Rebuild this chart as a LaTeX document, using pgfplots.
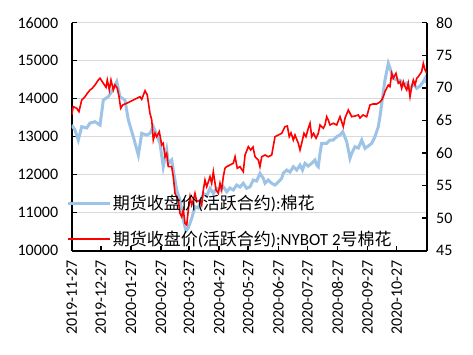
\documentclass[border=0pt]{standalone}
\usepackage{fontspec}
\setmainfont{Carlito}
\newfontfamily\cjk{Noto Sans CJK SC}
\usepackage{pgfplots}
\pgfplotsset{compat=1.18}
\definecolor{cfblue}{RGB}{157,195,230}
\definecolor{gridgray}{RGB}{217,217,217}

\pgfplotstableread{
d v
0 13307
3.4 13176
6.8 12913
10.3 13263
15.5 13229
18.9 13360
24.0 13394
29.2 13307
32.6 13965
37.7 14052
41.2 14184
46.4 14447
49.8 14052
54.9 13965
58.4 13439
63.5 13000
68.7 12518
72.2 13089
77.3 13044
80.7 13089
84.1 13263
87.6 13044
91.0 12826
94.4 12210
97.9 12649
99.6 12299
103.1 12386
104.7 12123
108.2 11597
111.6 11333
115.1 10807
117.8 10520
120.2 10600
123.7 10852
127.1 11157
130.5 11123
135.7 11510
139.2 11439
142.6 11641
146.0 11510
149.5 11641
152.9 11597
156.3 11684
159.8 11552
163.2 11649
166.6 11597
170.1 11728
173.5 11676
176.9 11773
180.4 11641
183.8 11684
187.2 11860
190.7 11834
194.1 12036
197.5 11905
199.3 11773
202.7 11860
206.2 11773
209.6 11728
213.0 11807
216.5 11905
218.1 12036
221.6 12123
225.1 12070
228.5 12210
232.0 12123
235.4 12255
237.9 12123
240.5 12299
243.9 12228
247.4 12299
250.8 12386
252.6 12255
254.2 12210
256.0 12563
257.7 12826
259.4 12826
262.9 12826
266.3 12913
269.7 12913
273.2 13000
276.6 13044
279.4 13131
283.5 12868
286.9 12431
288.7 12563
292.1 12736
295.5 12702
299.0 12913
302.4 12694
305.8 12755
309.3 12826
312.7 13000
316.1 13263
317.8 13526
320.6 14052
323.0 14492
326.4 14931
328.1 14808
331.5 14537
335.1 14492
338.5 14492
341.9 14360
345.4 14413
348.8 14229
352.2 14405
355.7 14273
359.1 14334
362.5 14447
365.3 14579
366 14413
}\cfdata

\pgfplotstableread{
d v
0 65.83
1.6 67.11
5.2 66.86
7.5 66.34
10.3 68.13
13.7 68.64
16.1 69.16
18.9 69.67
21.2 69.93
24.0 70.44
27.4 71.20
29.2 71.47
32.6 70.70
35.4 70.08
36.7 71.20
38.8 69.67
40.5 71.20
42.9 69.67
44.6 70.44
47.0 69.93
48.8 68.64
50.5 66.86
52.6 67.37
56.7 67.63
63.5 68.13
70.4 68.64
72.2 68.24
75.6 69.56
77.9 68.90
80.7 66.09
82.5 65.06
84.1 61.99
85.9 63.02
87.6 62.50
90.3 63.27
92.8 61.23
94.4 61.49
96.2 59.43
97.9 59.95
99.6 57.90
103.1 57.90
104.7 56.36
106.5 53.81
109.9 52.78
111.6 50.74
113.4 50.22
115.1 51.25
116.8 49.21
118.6 48.95
120.2 51.25
122.0 53.29
123.7 52.02
125.4 52.78
127.1 53.81
128.9 52.52
132.3 52.78
134.0 52.02
135.7 54.32
137.4 55.85
139.2 54.83
142.6 56.36
144.3 55.35
146.0 57.13
148.8 54.32
151.1 53.81
152.9 55.35
154.6 54.32
156.3 56.36
158.0 57.65
159.8 57.90
163.2 58.16
166.6 58.42
168.4 59.43
170.7 57.65
173.5 57.90
176.9 57.13
178.7 59.69
182.1 60.97
184.5 60.46
186.9 60.92
189.0 59.43
192.4 58.92
194.1 57.90
195.9 59.43
199.3 59.69
202.7 59.43
206.2 59.69
209.6 62.50
213.0 62.76
216.5 63.02
219.9 64.04
222.3 64.14
224.3 62.50
226.1 63.07
228.5 61.99
230.2 62.76
233.6 61.49
235.4 60.46
237.1 61.49
239.5 63.02
241.5 62.50
243.9 63.79
245.7 64.56
247.4 62.50
249.3 63.02
251.9 62.26
254.2 63.02
256.0 64.30
259.4 63.79
261.1 64.30
262.9 65.57
264.5 65.06
266.3 64.30
269.7 64.56
273.2 64.30
276.6 65.57
280.0 64.04
281.8 65.37
285.2 66.60
288.7 65.57
292.1 65.68
295.5 65.83
297.2 65.37
300.3 65.83
304.1 65.57
307.5 67.37
310.6 67.52
314.4 67.52
317.8 67.83
319.6 68.13
321.2 68.64
323.0 69.41
326.4 70.44
328.1 70.18
329.9 72.23
331.5 71.47
334.3 72.23
336.7 70.70
338.5 70.94
340.2 69.93
341.9 70.94
343.6 70.18
345.4 69.67
347.0 70.70
348.8 68.64
350.5 70.18
352.2 71.20
354.0 70.44
355.7 71.47
357.3 71.71
360.8 72.48
362.5 73.77
364.3 72.74
366.0 72.23
}\iceddata

\begin{document}
\begin{tikzpicture}[x=1bp,y=1bp]
\useasboundingbox (0,0) rectangle (473,354);
\pgfplotsset{
  common/.style={
    at={(71.7bp,103.3bp)}, anchor=south west,
    scale only axis, width=355bp, height=228bp,
    xmin=0, xmax=366,
    /pgf/number format/assume math mode=true,
    tick label style={font=\fontsize{16bp}{19bp}\selectfont},
    tick align=inside,
    major tick length=5bp,
    axis line style={black, line width=1.8bp, -},
    major tick style={black, line width=1.5bp},
  }
}
\begin{axis}[common,
  axis x line*=bottom, axis y line*=left,
  ymin=10000, ymax=16000, ytick={10000,11000,...,16000},
  scaled y ticks=false,
  yticklabel style={/pgf/number format/1000 sep={}, xshift=-10bp},
  ymajorgrids, grid style={gridgray, line width=1.5bp},
  xtick={0,30,61,92,121,152,182,213,243,274,305,335},
  xticklabels={2019-11-27,2019-12-27,2020-01-27,2020-02-27,2020-03-27,2020-04-27,2020-05-27,2020-06-27,2020-07-27,2020-08-27,2020-09-27,2020-10-27},
  xticklabel style={rotate=90, anchor=east, xshift=-6bp},
]
\addplot[cfblue, line width=3bp] table[x=d,y=v] {\cfdata};
\end{axis}
\begin{axis}[common,
  axis x line=none, axis y line*=right,
  ymin=45, ymax=80, ytick={45,50,...,80},
  yticklabel style={xshift=6bp},
  legend cell align=left,
  legend image code/.code={\draw[#1] (0bp,0bp) -- (41.6bp,0bp);},
  legend style={draw=none, fill=none, inner sep=0pt, outer sep=0pt,
    at={(axis description cs:-0.0141,0.243)}, anchor=north west,
    row sep=19.6bp,
    nodes={inner xsep=1.5bp, inner ysep=0bp},
    font=\fontsize{17bp}{20bp}\selectfont},
]
\addlegendimage{cfblue, line width=3bp}
\addlegendentry{{\cjk 期货收盘价}({\cjk 活跃合约}):{\cjk 棉花}}
\addplot[red, line width=1.6bp] table[x=d,y=v] {\iceddata};
\addlegendentry{{\cjk 期货收盘价}({\cjk 活跃合约}):NYBOT 2{\cjk 号棉花}}
\end{axis}
\end{tikzpicture}
\end{document}
